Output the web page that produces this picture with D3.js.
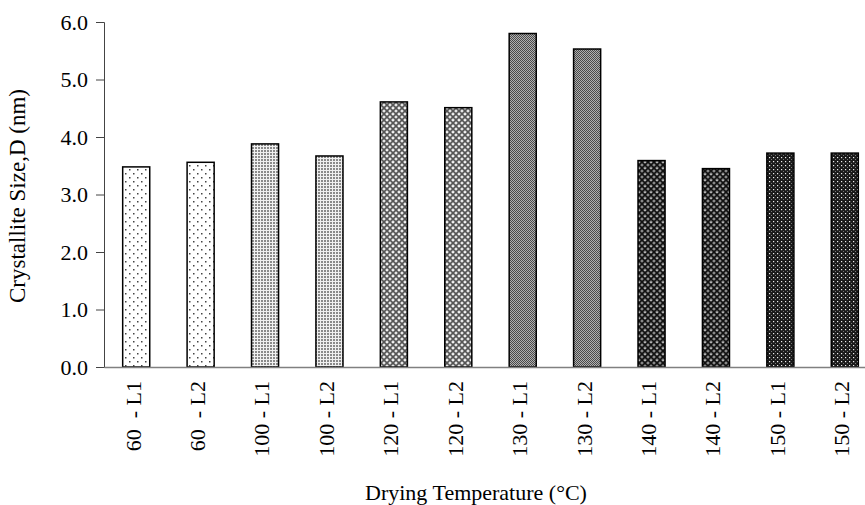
<!DOCTYPE html>
<html>
<head>
<meta charset="utf-8">
<script src="https://cdn.jsdelivr.net/npm/d3@7"></script>
<style>
  html, body { margin: 0; padding: 0; background: #fff; }
  svg { display: block; }
  text { font-family: "Liberation Serif", "Times New Roman", serif; fill: #000; }
</style>
</head>
<body>
<svg id="chart" width="865" height="505"></svg>
<script>
const categories = ["60  - L1", "60  - L2", "100 - L1", "100 - L2", "120 - L1", "120 - L2",
                    "130 - L1", "130 - L2", "140 - L1", "140 - L2", "150 - L1", "150 - L2"];
const values = [3.48, 3.56, 3.88, 3.67, 4.61, 4.51, 5.80, 5.53, 3.59, 3.45, 3.72, 3.72];
const patternIds = ["p60", "p60", "p100", "p100", "p120", "p120", "p130", "p130", "p140", "p140", "p150", "p150"];
const yTicks = [0, 1, 2, 3, 4, 5, 6];
const yTitle = "Crystallite Size,D (nm)";
const xTitle = "Drying Temperature (°C)";

const svg = d3.select("#chart");
const defs = svg.append("defs");

function pat(id, w, h, bg, draw) {
  const p = defs.append("pattern").attr("id", id).attr("patternUnits", "userSpaceOnUse")
    .attr("width", w).attr("height", h);
  p.append("rect").attr("width", w).attr("height", h).attr("fill", bg);
  draw(p);
}
pat("p60", 8, 8, "#fff", p => {
  p.append("rect").attr("x", 1).attr("y", 1).attr("width", 1.5).attr("height", 1.5).attr("fill", "#444");
  p.append("rect").attr("x", 5).attr("y", 5).attr("width", 1.5).attr("height", 1.5).attr("fill", "#444");
});
pat("p100", 3, 3, "#f0f0f0", p => {
  p.append("rect").attr("x", 0).attr("y", 0).attr("width", 2).attr("height", 2).attr("fill", "#8a8a8a");
});
pat("p120", 6, 6, "#e8e8e8", p => {
  p.append("path").attr("d", "M0,0L6,6M6,0L0,6").attr("stroke", "#555").attr("stroke-width", 1.6);
  p.append("rect").attr("x", 2.5).attr("y", 0).attr("width", 1).attr("height", 1).attr("fill", "#fff");
});
pat("p130", 2, 2, "#b0b0b0", p => {
  p.append("rect").attr("x", 0).attr("y", 0).attr("width", 1).attr("height", 1).attr("fill", "#4a4a4a");
  p.append("rect").attr("x", 1).attr("y", 1).attr("width", 1).attr("height", 1).attr("fill", "#4a4a4a");
});
pat("p140", 6, 6, "#8a8a8a", p => {
  p.append("path").attr("d", "M0,0L6,6M6,0L0,6").attr("stroke", "#111").attr("stroke-width", 1.6);
  p.append("rect").attr("x", 2.5).attr("y", 0).attr("width", 1).attr("height", 1).attr("fill", "#ddd");
});
pat("p150", 4, 4, "#1a1a1a", p => {
  p.append("rect").attr("x", 1).attr("y", 1).attr("width", 1.2).attr("height", 1.2).attr("fill", "#eee");
  p.append("rect").attr("x", 3).attr("y", 3).attr("width", 1).attr("height", 1).attr("fill", "#777");
});

const x = d3.scaleBand().domain(categories).range([104, 877]).paddingInner(0.58).paddingOuter(0.29);
const y = d3.scaleLinear().domain([0, 6]).range([367, 22]);

svg.append("g").selectAll("rect").data(values).join("rect")
  .attr("x", (d, i) => x(categories[i]))
  .attr("y", d => y(d))
  .attr("width", x.bandwidth())
  .attr("height", d => y(0) - y(d))
  .attr("fill", (d, i) => `url(#${patternIds[i]})`)
  .attr("stroke", "#000")
  .attr("stroke-width", 1.5);

const yAxis = svg.append("g").attr("transform", "translate(104,0)")
  .call(d3.axisLeft(y).tickValues(yTicks).tickFormat(d3.format(".1f")).tickSize(8).tickPadding(8));
yAxis.select(".domain").attr("stroke", "#444");
yAxis.selectAll(".tick line").attr("stroke", "#444");
yAxis.selectAll("text").attr("font-size", 22);

const xAxis = svg.append("g").attr("transform", "translate(0,367)")
  .call(d3.axisBottom(x).tickSize(0).tickSizeOuter(0));
xAxis.select(".domain").attr("stroke", "#808080").attr("stroke-width", 1.5);
xAxis.selectAll(".tick text")
  .attr("font-size", 22)
  .style("white-space", "pre")
  .attr("text-anchor", "end")
  .attr("transform", "rotate(-90)")
  .attr("x", -14)
  .attr("y", 0)
  .attr("dy", "0.2em");

svg.append("text").attr("transform", "translate(25,196) rotate(-90)")
  .attr("text-anchor", "middle").attr("font-size", 23).text(yTitle);
svg.append("text").attr("x", 476).attr("y", 500)
  .attr("text-anchor", "middle").attr("font-size", 22).text(xTitle);
</script>
</body>
</html>
